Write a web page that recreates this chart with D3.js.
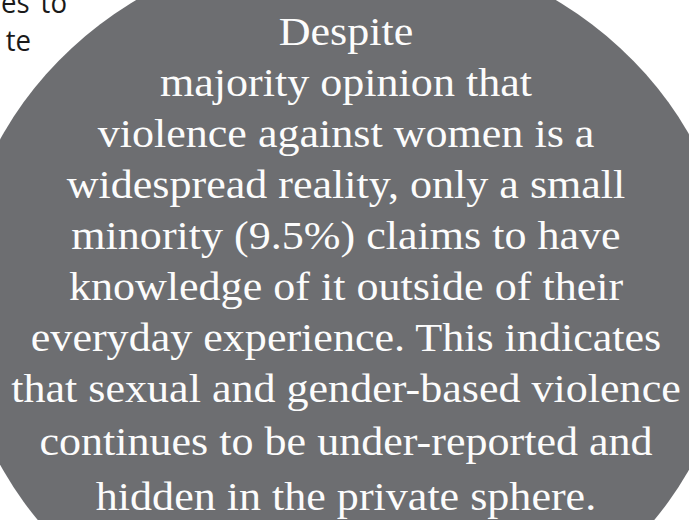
<!DOCTYPE html>
<html>
<head>
<meta charset="utf-8">
<script src="https://cdn.jsdelivr.net/npm/d3@7"></script>
<style>
  html, body { margin: 0; padding: 0; background: #ffffff; overflow: hidden; }
  svg { display: block; }
</style>
</head>
<body>
<div id="chart"></div>
<script>
// Text content of the callout bubble (one entry per line)
const calloutLines = [
  "Despite",
  "majority opinion that",
  "violence against women is a",
  "widespread reality, only a small",
  "minority (9.5%) claims to have",
  "knowledge of it outside of their",
  "everyday experience. This indicates",
  "that sexual and gender-based violence",
  "continues to be under-reported and",
  "hidden in the private sphere."
];

// Fragments of the neighbouring body text, cut off at the left edge
const cornerLines = ["es to", "te"];

const W = 689, H = 520;

const svg = d3.select("#chart").append("svg")
  .attr("width", W)
  .attr("height", H)
  .attr("viewBox", `0 0 ${W} ${H}`);

svg.append("rect").attr("width", W).attr("height", H).attr("fill", "#ffffff");

// Bubble
svg.append("ellipse")
  .attr("cx", 346)
  .attr("cy", 302)
  .attr("rx", 388)
  .attr("ry", 359)
  .attr("fill", "#6d6e71");

// Line baseline positions
const yLine = d3.scaleLinear()
  .domain([0, calloutLines.length - 3, calloutLines.length - 2, calloutLines.length - 1])
  .range([45, 402, 455, 510]);

const g = svg.append("g")
  .attr("transform", "translate(346,0) scale(1.075,1)");

g.selectAll("text.callout")
  .data(calloutLines)
  .join("text")
  .attr("class", "callout")
  .attr("x", 0)
  .attr("y", (d, i) => yLine(i))
  .attr("text-anchor", "middle")
  .attr("font-family", "'Liberation Serif', 'Times New Roman', serif")
  .attr("font-size", 41)
  .attr("fill", "#fcfcfc")
  .text(d => d);

// Corner body-text fragments
const yCorner = d3.scaleLinear().domain([0, 1]).range([13, 51]);
const gc = svg.append("g").attr("transform", "scale(0.92,1)");
gc.selectAll("text.corner")
  .data(cornerLines)
  .join("text")
  .attr("class", "corner")
  .attr("x", (d, i) => (i === 0 ? 67 : 31) / 0.92)
  .attr("y", (d, i) => yCorner(i))
  .attr("text-anchor", "end")
  .attr("font-family", "'Open Sans', 'Noto Sans', sans-serif")
  .attr("font-size", 30)
  .attr("word-spacing", 4)
  .attr("fill", "#1a1a1a")
  .text(d => d);
</script>
</body>
</html>
